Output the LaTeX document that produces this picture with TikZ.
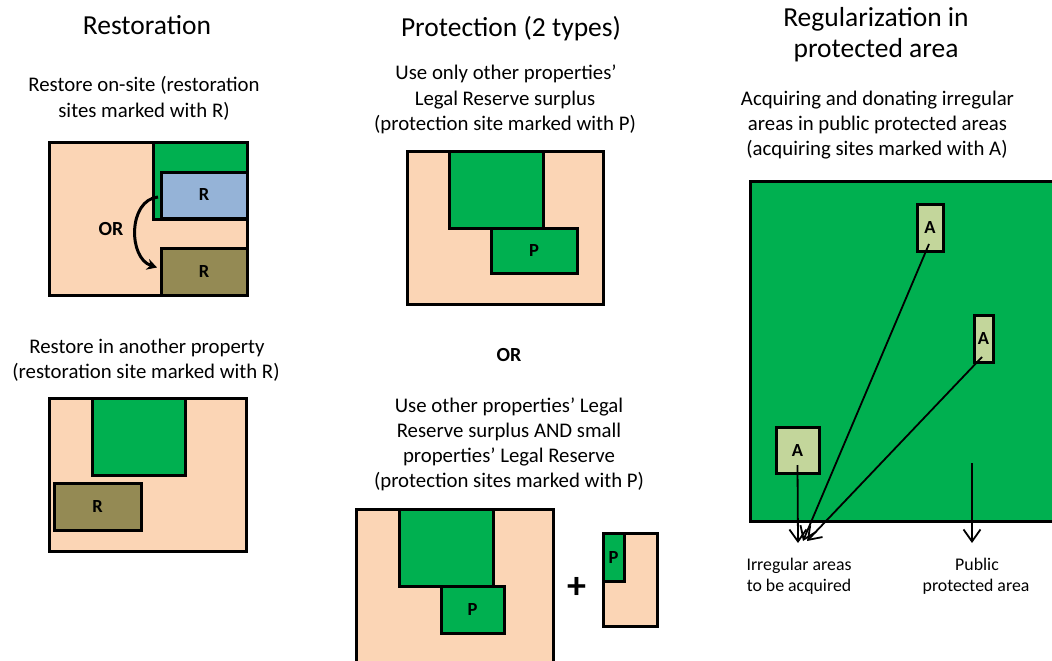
\documentclass[tikz,border=0pt]{standalone}
\usepackage{fontspec}
\setmainfont{Carlito}
\usetikzlibrary{arrows.meta}
\definecolor{peach}{HTML}{FBD5B5}
\definecolor{pgreen}{HTML}{00B050}
\definecolor{pblue}{HTML}{95B3D7}
\definecolor{polive}{HTML}{948A54}
\definecolor{plight}{HTML}{C3D69B}
\begin{document}
\begin{tikzpicture}[x=1pt,y=-1pt,
  area/.style={draw=black, line width=3pt, inner sep=0pt, outer sep=0pt},
  title/.style={font=\fontsize{27.5}{31}\selectfont, anchor=base, inner sep=0pt},
  sub/.style={font=\fontsize{20.8}{25}\selectfont, anchor=base, inner sep=0pt},
  small/.style={font=\fontsize{17.8}{21}\selectfont, anchor=base, inner sep=0pt},
  lab/.style={font=\bfseries\fontsize{18.5}{20}\selectfont},
  orlab/.style={font=\bfseries\fontsize{20}{22}\selectfont, inner sep=0pt},
  conn/.style={line width=1.8pt, -{Straight Barb[length=12pt,width=17pt,line width=1.8pt]}},
  curv/.style={line width=3pt, -{Stealth[length=10pt,width=11pt]}}
]
\useasboundingbox (0,0) rectangle (1052,661);
\clip (0,0) rectangle (1052,661);

% ---------- Panel 1: Restoration ----------
\node[title] (t1) at (147,35) {Restoration};
\node[sub] (s1a) at (144,92) {Restore on-site (restoration};
\node[sub] (s1b) at (144,117) {sites marked with R)};

\node[area, fill=peach, minimum width=198pt, minimum height=153pt] (o1) at (148,218.5) {};
\node[area, fill=pgreen, minimum width=94pt, minimum height=77pt] (g1) at (200,180.5) {};
\node[area, fill=pblue, minimum width=86pt, minimum height=46pt, lab] (rb) at (204,195) {R};
\node[area, fill=polive, minimum width=86pt, minimum height=47pt, lab] (ro) at (204,271.5) {R};
\node[orlab] (or1) at (111,229) {OR};
\draw[curv] ([xshift=-3pt,yshift=-2pt]rb.west) .. controls (128,200) and (128,258) .. ([xshift=-4pt,yshift=4pt]ro.west);

\node[sub] (s1c) at (147,353) {Restore in another property};
\node[sub] (s1d) at (146,378) {(restoration site marked with R)};

\node[area, fill=peach, minimum width=197pt, minimum height=153pt] (o2) at (147.5,474.5) {};
\node[area, fill=pgreen, minimum width=93pt, minimum height=77pt] (g2) at (138.5,436.5) {};
\node[area, fill=polive, minimum width=87pt, minimum height=47pt, lab] (ro2) at (97.5,506.5) {R};

% ---------- Panel 2: Protection ----------
\node[title] (t2) at (511,37) {Protection (2 types)};
\node[sub] (s2a) at (506,80) {Use only other properties’};
\node[sub] (s2b) at (505,105) {Legal Reserve surplus};
\node[sub] (s2c) at (505,130) {(protection site marked with P)};

\node[area, fill=peach, minimum width=196pt, minimum height=153pt] (o3) at (505,227.5) {};
\node[area, fill=pgreen, minimum width=94pt, minimum height=77pt] (g3) at (496,189.5) {};
\node[area, fill=pgreen, minimum width=86pt, minimum height=45pt, lab] (p3) at (534,250.5) {P};

\node[orlab, anchor=base] (or2) at (509,361) {OR};

\node[sub] (s2d) at (509,412) {Use other properties’ Legal};
\node[sub] (s2e) at (509,437) {Reserve surplus AND small};
\node[sub] (s2f) at (509,462) {properties’ Legal Reserve};
\node[sub] (s2g) at (509,487) {(protection sites marked with P)};

\node[area, fill=peach, minimum width=197pt, minimum height=158pt] (o4) at (454.5,588) {};
\node[area, fill=pgreen, minimum width=94pt, minimum height=77pt] (g4) at (446,547.5) {};
\node[area, fill=pgreen, minimum width=63pt, minimum height=47pt, lab] (p4) at (472.5,609.5) {P};
\node[font=\bfseries\fontsize{38}{38}\selectfont, inner sep=0pt] (plus) at (577,588) {+};
\node[area, fill=peach, minimum width=54pt, minimum height=93pt] (sp) at (630,579.5) {};
\node[area, fill=pgreen, minimum width=21pt, minimum height=48pt, lab] (psp) at (613.5,557) {P};

% ---------- Panel 3: Regularization ----------
\node[title] (t3a) at (876,27) {Regularization in};
\node[title] (t3b) at (876,58) {protected area};
\node[sub] (s3a) at (877.5,105) {Acquiring and donating irregular};
\node[sub] (s3b) at (877.5,130) {areas in public protected areas};
\node[sub] (s3c) at (877,155) {(acquiring sites marked with A)};

\node[area, fill=pgreen, minimum width=310pt, minimum height=340pt] (big) at (905,351) {};
\node[area, fill=plight, minimum width=26pt, minimum height=47pt, lab] (a2) at (930,227.5) {A};
\node[area, fill=plight, minimum width=19pt, minimum height=47pt, lab] (a3) at (983.5,338.5) {A};
\node[area, fill=plight, minimum width=43pt, minimum height=46pt, lab] (a1) at (797.5,450) {A};

\coordinate (e1) at (798,543);
\coordinate (e2) at (803,541);
\coordinate (e3) at (807,541);
\coordinate (pa) at (972,463);
\coordinate (pe) at (972,543);
\draw[conn] ([yshift=-15pt]a1.center) -- (e1);
\draw[conn] ([xshift=-1pt,yshift=-16.5pt]a2.center) -- (e2);
\draw[conn] ([xshift=-1.5pt,yshift=-18.5pt]a3.center) -- (e3);
\draw[conn] (pa) -- (pe);

\node[small] (l1) at (799,570) {Irregular areas};
\node[small] (l2) at (799,591) {to be acquired};
\node[small] (l3) at (977,570) {Public};
\node[small] (l4) at (976,591) {protected area};
\end{tikzpicture}
\end{document}
